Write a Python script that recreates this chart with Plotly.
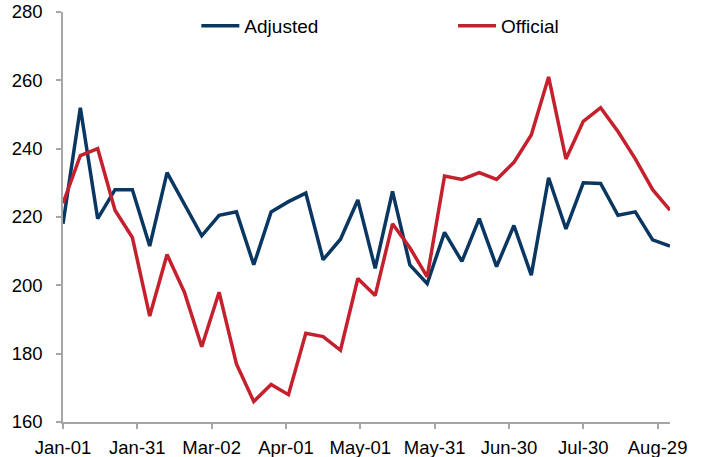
import pandas as pd
import plotly.graph_objects as go

# Weekly observations starting 1 Jan
dates = pd.date_range("2019-01-01", periods=36, freq="7D")

adjusted = [218, 252, 219.5, 228, 228, 211.5, 233, 224, 214.5, 220.5, 221.5, 206,
            221.5, 224.5, 227, 207.5, 213.5, 225, 205, 227.5, 206, 200.5, 215.5, 207,
            219.5, 205.5, 217.5, 203, 231.5, 216.5, 230, 229.8, 220.5, 221.5, 213.3, 211.5]

official = [224, 238, 240, 222, 214, 191, 209, 198, 182, 198, 177, 166,
            171, 168, 186, 185, 181, 202, 197, 218, 211, 202.5, 232, 231,
            233, 231, 236, 244, 261, 237, 248, 252, 245, 237, 228, 222]

series_names = ["Adjusted", "Official"]
series_colors = ["#0A3762", "#C4202D"]
legend_ids = ["legend", "legend2"]

fig = go.Figure()
for name, vals, col, lg in zip(series_names, [adjusted, official], series_colors, legend_ids):
    fig.add_trace(go.Scatter(x=dates, y=vals, mode="lines", name=name, legend=lg,
                             line=dict(color=col, width=3.5)))

axis_col = "#A6A6A6"
TICK_FS = 18.5
LEG_FS = 19
leg_common = dict(orientation="h", yanchor="middle", y=0.966, xanchor="left",
                  font=dict(size=LEG_FS), itemwidth=38, bgcolor="rgba(0,0,0,0)")
fig.update_layout(
    width=703, height=457,
    margin=dict(l=63, r=33, t=12, b=35, autoexpand=False),
    paper_bgcolor="white", plot_bgcolor="white",
    font=dict(family="Liberation Sans, Arial, sans-serif", size=TICK_FS, color="#000000"),
    showlegend=True,
    legend=dict(x=0.2197, **leg_common),
    legend2=dict(x=0.6426, **leg_common),
    xaxis=dict(range=["2019-01-01", "2019-09-03"], tick0="2019-01-01",
               dtick=30 * 86400000, tickformat="%b-%d", showgrid=False,
               showline=True, linecolor=axis_col, linewidth=1.5,
               ticks="outside", ticklen=5, tickcolor=axis_col, tickwidth=1.5,
               ticklabelstandoff=3,
               zeroline=False, automargin=False, tickfont=dict(size=TICK_FS)),
    yaxis=dict(range=[160, 280], dtick=20, showgrid=False,
               showline=True, linecolor=axis_col, linewidth=1.5,
               ticks="outside", ticklen=5, tickcolor=axis_col, tickwidth=1.5,
               ticklabelstandoff=10,
               zeroline=False, automargin=False, tickfont=dict(size=TICK_FS)),
)

# remove the browser's default 8px body margin so the figure sits at the page corner
fig.write_html("out.html", config={"displayModeBar": False},
               post_script="document.body.style.margin='0';")
